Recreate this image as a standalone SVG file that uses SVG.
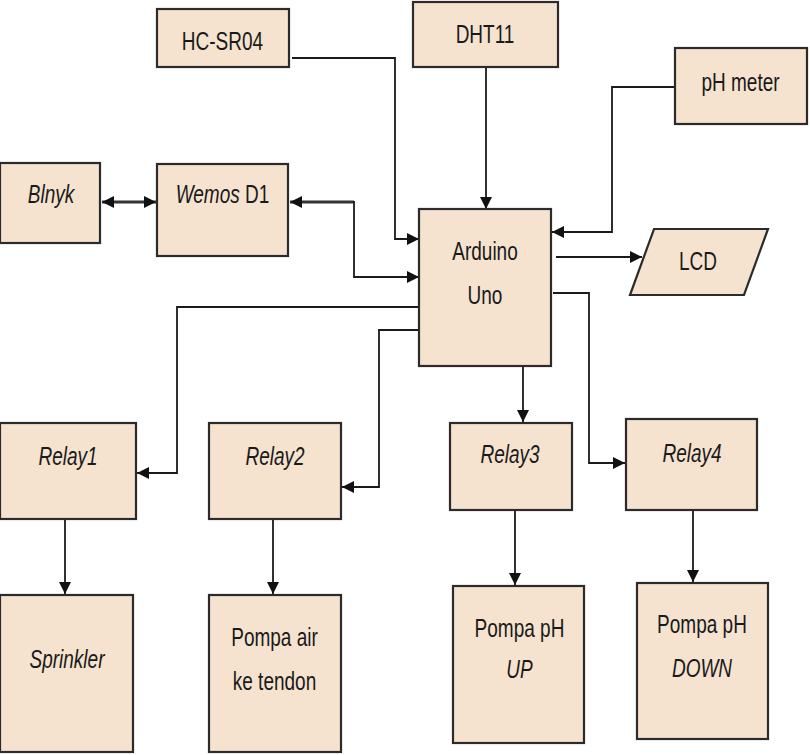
<svg xmlns="http://www.w3.org/2000/svg" width="810" height="755" viewBox="0 0 810 755">
<defs>
<marker id="ah" markerUnits="userSpaceOnUse" markerWidth="13" markerHeight="12" refX="12" refY="6" orient="auto-start-reverse">
<path d="M0,0 L12,6 L0,12 Z" fill="#111"/>
</marker>
</defs>
<style>
.box{fill:#F5E3CF;stroke:#2b2b2b;stroke-width:2.2}
.t{font-family:"Liberation Sans",Arial,sans-serif;font-size:19px;fill:#1a1a1a;text-anchor:middle}
.i{font-style:italic}
.c{fill:none;stroke:#1a1a1a;stroke-width:1.8}
.k{fill:none;stroke:#333;stroke-width:3.2}
</style>
<rect width="810" height="755" fill="#fff"/>
<g id="connectors">
<path class="c" d="M292,58 H395 V239 H419" marker-end="url(#ah)"/>
<path class="k" d="M102,202 H156" marker-start="url(#ah)" marker-end="url(#ah)"/>
<path class="k" d="M290,202 H354" marker-start="url(#ah)"/>
<path class="c" d="M354,201 V277 H419" marker-end="url(#ah)"/>
<path class="c" d="M486,67 V209" marker-end="url(#ah)"/>
<path class="c" d="M675,87 H612 V232 H552" marker-end="url(#ah)"/>
<path class="c" d="M556,257 H642" marker-end="url(#ah)"/>
<path class="c" d="M419,307 H177 V473 H137" marker-end="url(#ah)"/>
<path class="c" d="M419,330 H379 V487 H342" marker-end="url(#ah)"/>
<path class="c" d="M553,293 H589 V463 H625" marker-end="url(#ah)"/>
<path class="c" d="M523,366 V422" marker-end="url(#ah)"/>
<path class="c" d="M65,519 V594" marker-end="url(#ah)"/>
<path class="c" d="M273,519 V594" marker-end="url(#ah)"/>
<path class="c" d="M515,510 V585" marker-end="url(#ah)"/>
<path class="c" d="M693,510 V582" marker-end="url(#ah)"/>
</g>
<g id="hcsr04">
<rect class="box" x="157" y="9" width="132" height="58"/>
<text class="t" transform="translate(222.5,49.5) scale(1,1.4)">HC-SR04</text>
</g>
<g id="dht11">
<rect class="box" x="413" y="2" width="145" height="65"/>
<text class="t" transform="translate(485,43) scale(1,1.4)">DHT11</text>
</g>
<g id="phmeter">
<rect class="box" x="675" y="48" width="132" height="76"/>
<text class="t" transform="translate(740.5,91) scale(1,1.4)">pH meter</text>
</g>
<g id="blnyk">
<rect class="box" x="0" y="163" width="100" height="80"/>
<text class="t i" transform="translate(51,203) scale(1,1.4)">Blnyk</text>
</g>
<g id="wemos">
<rect class="box" x="157" y="164" width="131" height="92"/>
<text class="t" transform="translate(222.5,203) scale(1,1.4)"><tspan class="i">Wemos</tspan> D1</text>
</g>
<g id="arduino">
<rect class="box" x="419" y="209" width="132" height="157"/>
<text class="t" transform="translate(485,259.5) scale(1,1.4)">Arduino</text>
<text class="t" transform="translate(485,304) scale(1,1.4)">Uno</text>
</g>
<g id="lcd">
<polygon class="box" points="654,229 768,229 744,295 630,295"/>
<text class="t" transform="translate(698,270) scale(1,1.4)">LCD</text>
</g>
<g id="relay1">
<rect class="box" x="0" y="423" width="136" height="96"/>
<text class="t i" transform="translate(68,465) scale(1,1.4)">Relay1</text>
</g>
<g id="relay2">
<rect class="box" x="209" y="423" width="132" height="96"/>
<text class="t i" transform="translate(275,465) scale(1,1.4)">Relay2</text>
</g>
<g id="relay3">
<rect class="box" x="450" y="423" width="122" height="87"/>
<text class="t i" transform="translate(510,463) scale(1,1.4)">Relay3</text>
</g>
<g id="relay4">
<rect class="box" x="626" y="419" width="131" height="91"/>
<text class="t i" transform="translate(692,462) scale(1,1.4)">Relay4</text>
</g>
<g id="sprinkler">
<rect class="box" x="0" y="595" width="133" height="157"/>
<text class="t i" transform="translate(67,668) scale(1,1.4)">Sprinkler</text>
</g>
<g id="pompaair">
<rect class="box" x="209" y="595" width="132" height="157"/>
<text class="t" transform="translate(274.5,646) scale(1,1.4)">Pompa air</text>
<text class="t" transform="translate(274.5,690) scale(1,1.4)">ke tendon</text>
</g>
<g id="pompaup">
<rect class="box" x="453" y="586" width="131" height="157"/>
<text class="t" transform="translate(519.5,637) scale(1,1.4)">Pompa pH</text>
<text class="t i" transform="translate(519.5,678) scale(1,1.4)">UP</text>
</g>
<g id="pompadown">
<rect class="box" x="637" y="583" width="131" height="156"/>
<text class="t" transform="translate(702,633) scale(1,1.4)">Pompa pH</text>
<text class="t i" transform="translate(702,677) scale(1,1.4)">DOWN</text>
</g>
</svg>
